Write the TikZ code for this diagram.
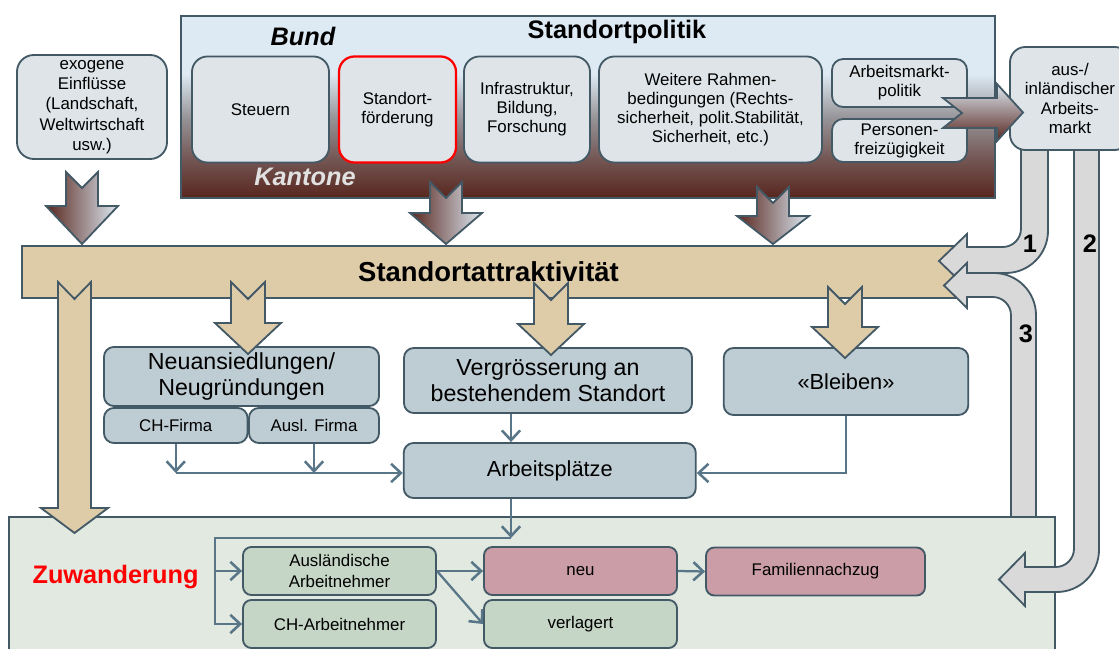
\documentclass[tikz,border=0pt]{standalone}
\usepackage{fontspec}
\setmainfont{Liberation Sans}
\usetikzlibrary{arrows.meta}

\definecolor{bordc}{RGB}{67,89,102}
\definecolor{connc}{RGB}{88,118,135}
\definecolor{poltop}{RGB}{221,233,243}
\definecolor{polmid}{RGB}{150,148,152}
\definecolor{polbot}{RGB}{88,38,30}
\colorlet{polmix}{polbot!55!polmid}
\definecolor{boxlight}{RGB}{222,228,232}
\definecolor{boxblue}{RGB}{190,204,211}
\definecolor{tanc}{RGB}{222,203,168}
\definecolor{zuwc}{RGB}{225,233,225}
\definecolor{greenc}{RGB}{198,214,198}
\definecolor{pinkc}{RGB}{203,157,167}
\definecolor{grayarr}{RGB}{217,217,217}
\definecolor{kantc}{RGB}{225,225,225}

\pgfdeclareverticalshading{polshade}{100bp}{color(0bp)=(polbot); color(25bp)=(polbot); color(36bp)=(polmix); color(47bp)=(polmid); color(59bp)=(poltop); color(100bp)=(poltop)}

\begin{document}
\begin{tikzpicture}[x=0.025cm,y=-0.025cm]
\tikzstyle{topbox}=[draw=bordc,fill=boxlight,line width=1.3pt,rounded corners=11pt,align=center,inner sep=1pt,font=\fontsize{12}{13.5}\selectfont]
\tikzstyle{bluebox}=[draw=bordc,fill=boxblue,line width=1.3pt,rounded corners=7pt,align=center,inner sep=1pt]
\tikzstyle{smallbox}=[draw=bordc,line width=1.3pt,rounded corners=6pt,align=center,inner sep=1pt,minimum width=4.825cm,minimum height=1.2cm,font=\fontsize{12}{14.5}\selectfont]
\tikzstyle{darrow}=[draw=bordc,line width=1.3pt,left color=polbot,middle color=polmid,right color=poltop]
\tikzstyle{tarrow}=[draw=bordc,line width=1.3pt,fill=tanc]
\tikzstyle{garrow}=[draw=bordc,line width=1.3pt,fill=grayarr]
\tikzstyle{conn}=[draw=connc,line width=1.6pt,-{Straight Barb[length=7pt,width=13pt,line width=1.8pt]}]
\tikzstyle{bigbold}=[font=\bfseries\fontsize{18}{20}\selectfont]
\useasboundingbox (0,0) rectangle (1119,649);

% Standortpolitik
\node[draw=bordc,line width=1.3pt,shading=polshade,minimum width=20.35cm,minimum height=4.55cm] (polbox) at (588,107) {};
\node[bigbold] (titel) at (617,32) {Standortpolitik};
\node[bigbold,font=\bfseries\itshape\fontsize{18}{20}\selectfont] (bund) at (303,36) {Bund};
\node[bigbold,font=\bfseries\itshape\fontsize{18}{20}\selectfont,text=kantc] (kantone) at (305,177) {Kantone};
\node[topbox,minimum width=3.425cm,minimum height=2.65cm] (steuern) at (260.5,109.5) {Steuern};
\node[topbox,draw=red,line width=1.6pt,minimum width=2.925cm,minimum height=2.65cm] (foerderung) at (397.5,109.5) {Standort-\\förderung};
\node[topbox,minimum width=3.15cm,minimum height=2.65cm] (infra) at (527,109.5) {Infrastruktur,\\Bildung,\\Forschung};
\node[topbox,minimum width=5.575cm,minimum height=2.65cm] (rahmen) at (710.5,109.5) {Weitere Rahmen-\\bedingungen (Rechts-\\sicherheit, polit.Stabilität,\\Sicherheit, etc.)};
\node[topbox,rounded corners=8pt,minimum width=3.375cm,minimum height=1.2cm] (amarkt) at (899.5,83) {Arbeitsmarkt-\\politik};
\node[topbox,rounded corners=8pt,minimum width=3.375cm,minimum height=1.075cm] (freiz) at (899.5,140.5) {Personen-\\freizügigkeit};

% exogene Einfluesse
\node[topbox,rounded corners=12pt,minimum width=3.75cm,minimum height=2.6cm,font=\fontsize{12}{14.5}\selectfont] (exogen) at (92,107) {exogene\\Einflüsse\\(Landschaft,\\Weltwirtschaft\\usw.)};

% Standortattraktivitaet
\node[draw=bordc,fill=tanc,line width=1.3pt,minimum width=23.325cm,minimum height=1.3cm,font=\bfseries\fontsize{19.5}{22}\selectfont] (attrakt) at (488.5,272) {Standortattraktivität};
\foreach \cx/\ty/\hy in {82/172/206, 446/182/213, 773/187/216}
  \draw[darrow] ({\cx-16},\ty) -- (\cx,{\ty+16}) -- ({\cx+16},\ty) -- ({\cx+16},\hy) -- ({\cx+36},\hy) -- (\cx,244) -- ({\cx-36},\hy) -- ({\cx-16},\hy) -- cycle;

% Zuwanderung
\node[draw=bordc,fill=zuwc,line width=1.3pt,minimum width=26.15cm,minimum height=4.575cm] (zuwbox) at (532,608.5) {};
\node[bigbold,text=red] (zuwlabel) at (115.5,577) {Zuwanderung};
\node[smallbox,fill=greenc] (auslan) at (339.5,571) {Ausländische\\Arbeitnehmer};
\node[smallbox,fill=greenc] (charb) at (339.5,624) {CH-Arbeitnehmer};
\node[smallbox,fill=pinkc] (neu) at (580.5,571) {neu};
\node[smallbox,fill=greenc] (verlagert) at (580.5,624) {verlagert};
\node[smallbox,fill=pinkc,minimum width=5.475cm] (famnach) at (815.5,571.5) {Familiennachzug};

% Unternehmen
\node[bluebox,minimum width=6.875cm,minimum height=1.475cm,font=\fontsize{16.5}{19}\selectfont] (neuans) at (241.5,376.5) {Neuansiedlungen/\\Neugründungen};
\node[bluebox,minimum width=3.5875cm,minimum height=0.875cm,font=\fontsize{12}{14}\selectfont] (chfirma) at (175.75,425.5) {CH-Firma};
\node[bluebox,minimum width=3.25cm,minimum height=0.875cm,font=\fontsize{12}{14}\selectfont] (auslfirma) at (314,425.5) {Ausl. Firma};
\node[bluebox,minimum width=7.2cm,minimum height=1.625cm,font=\fontsize{16.5}{19}\selectfont] (vergr) at (548,380.5) {Vergrösserung an\\bestehendem Standort};
\node[bluebox,minimum width=6.1125cm,minimum height=1.675cm,font=\fontsize{15.5}{18}\selectfont] (bleiben) at (846,381.5) {«Bleiben»};
\node[bluebox,minimum width=7.3cm,minimum height=1.375cm,font=\fontsize{15.5}{18}\selectfont] (arbplatz) at (549.75,470.5) {Arbeitsplätze};

\foreach \cx/\ty/\hy/\tip in {248/282/323/354, 551/283/324/355, 845/287/327/358}
  \draw[tarrow] ({\cx-17},\ty) -- (\cx,{\ty+17}) -- ({\cx+17},\ty) -- ({\cx+17},\hy) -- ({\cx+33},\hy) -- (\cx,\tip) -- ({\cx-33},\hy) -- ({\cx-17},\hy) -- cycle;
\draw[tarrow] (58,282) -- (74.5,299) -- (91,282) -- (91,508) -- (108,508) -- (74.5,533) -- (41,508) -- (58,508) -- cycle;

% Arbeitsmarkt
\draw[garrow] (1021,140) [rounded corners=13pt] -- (1021,247) [sharp corners] -- (967,247) -- (967,234) -- (939,261) -- (967,288) -- (967,273) [rounded corners=30pt] -- (1048,273) [sharp corners] -- (1048,140) -- cycle;
\draw[garrow] (1011,517) [rounded corners=13pt] -- (1011,297) [sharp corners] -- (967,297) -- (967,308) -- (944,285.5) -- (967,263) -- (967,273) [rounded corners=30pt] -- (1036,273) [sharp corners] -- (1036,517) -- cycle;
\draw[garrow] (1074,140) [rounded corners=13pt] -- (1074,567) [sharp corners] -- (1025,567) -- (1025,553) -- (999,579.5) -- (1025,606) -- (1025,592) [rounded corners=30pt] -- (1099,592) [sharp corners] -- (1099,140) -- cycle;
\node[bigbold] (eins) at (1030,244) {1};
\node[bigbold] (zwei) at (1090,244) {2};
\node[bigbold] (drei) at (1026,334) {3};
\node[topbox,minimum width=3cm,minimum height=2.575cm,font=\fontsize{12}{13.7}\selectfont] (arbmarkt) at (1070,98.5) {aus-/\\inländischer\\Arbeits-\\markt};
\draw[draw=bordc,line width=1.3pt,top color=poltop,bottom color=polbot] (943,98) -- (962,113) -- (943,128) -- (997,128) -- (997,141) -- (1023,112.5) -- (997,84) -- (997,98) -- cycle;

% Verbindungen
\coordinate (xa) at (511,0);
\coordinate (hline) at (0,473);
\coordinate (knot) at (511,538);
\coordinate (bend) at (215,538);
\draw[conn] (chfirma.south) -- (chfirma.south |- hline);
\draw[conn] (auslfirma.south) -- (auslfirma.south |- hline);
\draw[conn] (chfirma.south |- hline) -- (arbplatz.west |- hline);
\draw[conn] (vergr.south -| xa) -- (arbplatz.north -| xa);
\draw[conn] (bleiben.south) |- (arbplatz.east |- hline);
\draw[conn] (arbplatz.south -| xa) -- (knot);
\draw[conn] (knot) -- (bend) |- (charb.west);
\draw[conn] (bend |- auslan.west) -- (auslan.west);
\draw[conn] (auslan.east) -- (neu.west);
\draw[conn] (auslan.east) -- (verlagert.west);
\draw[conn] (neu.east) -- (famnach.west);
\end{tikzpicture}
\end{document}
